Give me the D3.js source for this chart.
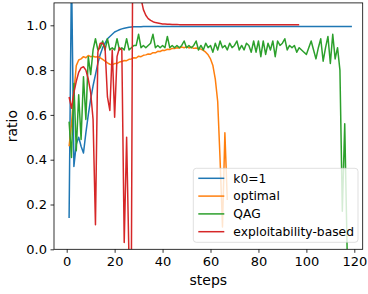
<!DOCTYPE html>
<html>
  <head>
    <meta charset="utf-8">
    <script src="https://d3js.org/d3.v7.min.js"></script>
    <style>
      body { margin: 0; background: #fff; }
      text { font-family: "DejaVu Sans", sans-serif; fill: #000; }
    </style>
  </head>
  <body>
    <svg id="chart"></svg>
    <script>
      // valeurs lues sur la figure, pas = index + 1
      const k0Values = [0.14, 1.25, 0.37, 0.47, 0.50, 0.46, 0.43, 0.52, 0.60, 0.67,
        0.73, 0.78, 0.83, 0.87, 0.90, 0.92, 0.94, 0.95, 0.96, 0.97,
        0.975, 0.98, 0.984, 0.987, 0.989, 0.991, 0.992, 0.993, 0.994, 0.994,
        0.994, 0.995, 0.995, 0.995, 0.995, 0.995, 0.995, 0.995, 0.995, 0.995,
        0.995, 0.995, 0.995, 0.995, 0.995, 0.995, 0.995, 0.995, 0.995, 0.995,
        0.995, 0.995, 0.995, 0.995, 0.995, 0.995, 0.995, 0.995, 0.995, 0.995,
        0.995, 0.995, 0.995, 0.995, 0.995, 0.995, 0.995, 0.995, 0.995, 0.995,
        0.995, 0.995, 0.995, 0.995, 0.995, 0.995, 0.995, 0.995, 0.995, 0.995,
        0.995, 0.995, 0.995, 0.995, 0.995, 0.995, 0.995, 0.995, 0.995, 0.995,
        0.995, 0.995, 0.995, 0.995, 0.995, 0.995, 0.995, 0.995, 0.995, 0.995,
        0.995, 0.995, 0.995, 0.995, 0.995, 0.995, 0.995, 0.995, 0.995, 0.995,
        0.995, 0.995, 0.995, 0.995, 0.995, 0.995, 0.995, 0.995, 0.995]

      const optimalValues = [0.46, 0.56, 0.70, 0.82, 0.845, 0.85, 0.86, 0.855, 0.865, 0.86,
        0.862, 0.858, 0.86, 0.855, 0.848, 0.84, 0.832, 0.826, 0.824, 0.829,
        0.83, 0.836, 0.838, 0.843, 0.842, 0.848, 0.85, 0.855, 0.854, 0.862,
        0.86, 0.866, 0.868, 0.872, 0.871, 0.878, 0.877, 0.884, 0.883, 0.889,
        0.888, 0.893, 0.892, 0.897, 0.896, 0.9, 0.899, 0.903, 0.9, 0.904,
        0.899, 0.902, 0.897, 0.899, 0.895, 0.894, 0.888, 0.88, 0.868, 0.85,
        0.82, 0.76, 0.66, 0.40, 0.10, 0.52, 0.22]

      const qagValues = [0.57, 0.41, 0.74, 0.44, 0.69, 0.49, 0.77, 0.58, 0.86, 0.78,
        0.89, 0.94, 0.89, 0.90, 0.93, 0.89, 0.94, 0.89, 0.90, 0.89,
        0.94, 0.89, 0.90, 0.89, 0.94, 0.89, 0.90, 0.91, 0.91, 0.96,
        0.90, 0.91, 0.90, 0.91, 0.92, 0.96, 0.90, 0.91, 0.90, 0.91,
        0.90, 0.95, 0.90, 0.91, 0.90, 0.91, 0.90, 0.91, 0.93, 0.90,
        0.91, 0.90, 0.91, 0.93, 0.89, 0.91, 0.89, 0.92, 0.90, 0.91,
        0.88, 0.92, 0.89, 0.93, 0.90, 0.91, 0.89, 0.92, 0.90, 0.91,
        0.93, 0.89, 0.91, 0.89, 0.92, 0.91, 0.88, 0.93, 0.88, 0.93,
        0.86, 0.93, 0.87, 0.92, 0.89, 0.93, 0.86, 0.93, 0.91, 0.92,
        0.94, 0.89, 0.91, 0.90, 0.91, 0.88, 0.90, 0.89, 0.88, 0.87,
        0.90, 0.93, 0.89, 0.85, 0.90, 0.94, 0.84, 0.90, 0.95, 0.83,
        0.96, 0.85, 0.90, 0.80, 0.17, 0.56, 0.0]

      const exploitValues = [0.68, 0.63, 0.70, 0.75, 0.79, 0.81, 0.815, 0.80, 0.76, 0.70,
        0.58, 0.11, 0.88, 0.92, 0.92, 0.90, 0.68, 0.62, 0.89, 0.59,
        0.86, 0.90, 0.89, 0.03, 0.50, -0.05, -0.05, 2.5, 1.8, 1.35,
        1.12, 1.07, 1.045, 1.03, 1.022, 1.016, 1.012, 1.01, 1.008, 1.006,
        1.006, 1.005, 1.005, 1.004, 1.004, 1.004, 1.003, 1.003, 1.003, 1.003,
        1.003, 1.003, 1.003, 1.003, 1.003, 1.003, 1.003, 1.003, 1.003, 1.003,
        1.002, 1.002, 1.002, 1.002, 1.002, 1.002, 1.002, 1.002, 1.002, 1.002,
        1.002, 1.002, 1.002, 1.002, 1.002, 1.002, 1.002, 1.002, 1.002, 1.002,
        1.002, 1.002, 1.002, 1.002, 1.002, 1.002, 1.002, 1.002, 1.002, 1.002,
        1.002, 1.002, 1.002, 1.002, 1.002, 1.002, 1.002]

      const seriesNames = ['k0=1', 'optimal', 'QAG', 'exploitability-based']
      const seriesColors = ['#1f77b4', '#ff7f0e', '#2ca02c', '#d62728']
      const xTicks = [0, 20, 40, 60, 80, 100, 120]
      const yTicks = [0, 0.2, 0.4, 0.6, 0.8, 1.0]

      const series = [k0Values, optimalValues, qagValues, exploitValues]
        .map((vals, k) => ({
          name: seriesNames[k],
          color: seriesColors[k],
          points: vals.map((v, i) => [i + 1, v])
        }))

      const W = 368, H = 294
      const plotL = 54, plotR = 362.7, plotT = 2.9, plotB = 249.3

      const svg = d3.select('#chart')
        .attr('width', W)
        .attr('height', H)

      const x = d3.scaleLinear().domain([-5.3, 123.5]).range([plotL, plotR])
      const y = d3.scaleLinear().domain([0, 1.1]).range([plotB, plotT])

      svg.append('defs').append('clipPath')
        .attr('id', 'clip')
        .append('rect')
          .attr('x', plotL).attr('y', plotT)
          .attr('width', plotR - plotL).attr('height', plotB - plotT)

      // courbes
      const line = d3.line().x(d => x(d[0])).y(d => y(d[1]))
      svg.append('g')
        .attr('clip-path', 'url(#clip)')
        .selectAll('path')
        .data(series)
        .join('path')
          .attr('d', d => line(d.points))
          .attr('fill', 'none')
          .attr('stroke', d => d.color)
          .attr('stroke-width', 1.5)
          .attr('stroke-linejoin', 'round')

      // axes
      const xAxis = svg.append('g')
        .attr('transform', `translate(0,${plotB})`)
        .call(d3.axisBottom(x).tickValues(xTicks).tickSize(3.5).tickPadding(3.5))
      const yAxis = svg.append('g')
        .attr('transform', `translate(${plotL},0)`)
        .call(d3.axisLeft(y).tickValues(yTicks).tickFormat(d3.format('.1f')).tickSize(3.5).tickPadding(3.5))

      for (const a of [xAxis, yAxis]) {
        a.select('.domain').remove()
        a.selectAll('line').attr('stroke', '#000').attr('stroke-width', 0.8)
        a.selectAll('text').attr('font-size', 13).attr('font-family', 'DejaVu Sans').attr('fill', '#000')
      }

      svg.append('rect')
        .attr('x', plotL).attr('y', plotT)
        .attr('width', plotR - plotL).attr('height', plotB - plotT)
        .attr('fill', 'none')
        .attr('stroke', '#000')
        .attr('stroke-width', 0.8)

      svg.append('text')
        .attr('x', (plotL + plotR) / 2)
        .attr('y', 285)
        .attr('text-anchor', 'middle')
        .attr('font-size', 14)
        .text('steps')

      svg.append('text')
        .attr('transform', `translate(17,${(plotT + plotB) / 2}) rotate(-90)`)
        .attr('text-anchor', 'middle')
        .attr('font-size', 14)
        .text('ratio')

      // légende
      const lg = svg.append('g').attr('transform', 'translate(193.3,168.3)')
      lg.append('rect')
        .attr('width', 164.7).attr('height', 74)
        .attr('rx', 3)
        .attr('fill', '#fff').attr('fill-opacity', 0.8)
        .attr('stroke', '#cccccc').attr('stroke-opacity', 0.8)
        .attr('stroke-width', 0.8)

      const item = lg.selectAll('g.item')
        .data(series)
        .join('g')
          .attr('class', 'item')
          .attr('transform', (d, i) => `translate(0,${10 + i * 17.8})`)
      item.append('line')
        .attr('x1', 5).attr('x2', 31)
        .attr('stroke', d => d.color)
        .attr('stroke-width', 1.5)
      item.append('text')
        .attr('x', 40)
        .attr('dy', '0.35em')
        .attr('font-size', 12.3)
        .text(d => d.name)
    </script>
  </body>
</html>
